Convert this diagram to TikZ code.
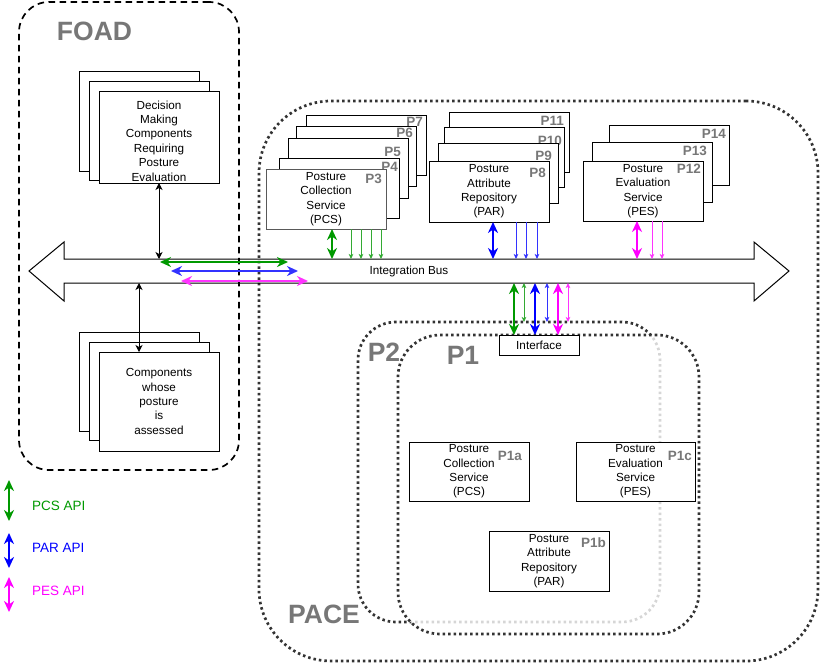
\documentclass[tikz,border=0pt]{standalone}
\usepackage{fontspec}
\setmainfont{Liberation Sans}
\usetikzlibrary{arrows.meta}
\definecolor{lblgray}{HTML}{777777}
\definecolor{cgreen}{HTML}{009900}
\definecolor{cgreenl}{HTML}{33AA33}
\definecolor{cblue}{HTML}{0000FF}
\definecolor{cbluel}{HTML}{3333FF}
\definecolor{cmag}{HTML}{FF00FF}
\definecolor{cmagl}{HTML}{FF33FF}
\definecolor{dotc}{HTML}{333333}
\begin{document}
\begin{tikzpicture}[x=1pt,y=-1pt,
 box/.style={draw=black,fill=white,line width=0.9pt,inner sep=0pt,outer sep=0pt,anchor=north west,align=center,font={\fontsize{11.7}{14.4}\selectfont}},
 txt/.style={inner sep=0pt,align=center,font={\fontsize{11.7}{14.4}\selectfont}},
 plbl/.style={inner sep=0pt,anchor=east,text=lblgray,font={\fontsize{13.5}{15}\selectfont\bfseries}},
 biglbl/.style={inner sep=0pt,text=lblgray,font={\fontsize{26.5}{30}\selectfont\bfseries}},
 foadbox/.style={draw=black,line width=1.7pt,dash pattern=on 6.5pt off 4.5pt,rounded corners=30pt,inner sep=0pt,outer sep=0pt,anchor=north west},
 dotbox/.style={draw=dotc,line width=2.7pt,dash pattern=on 2.5pt off 3pt,inner sep=0pt,outer sep=0pt,anchor=north west},
 apibig/.style={line width=2pt,>={Stealth[length=11pt,width=10pt,inset=3.5pt]},<->},
 apihz/.style={line width=2pt,>={Stealth[length=11pt,width=10pt,inset=3.5pt]},<->},
 apithin/.style={line width=0.8pt,>={Stealth[length=5pt,width=4.5pt,inset=1.2pt]},->},
 apithinb/.style={line width=0.8pt,>={Stealth[length=5pt,width=4.5pt,inset=1.2pt]},<->},
 blkarr/.style={line width=0.8pt,draw=black,>={Stealth[length=7pt,width=7pt,inset=2pt]},<->},
 lgtxt/.style={inner sep=0pt,anchor=west,font={\fontsize{13.5}{15}\selectfont}},
]
\useasboundingbox (0,0) rectangle (821,663);

% containers
\node[foadbox,minimum width=220pt,minimum height=468pt] (foad) at (19,2) {};
\node[dotbox,rounded corners=72pt,minimum width=559pt,minimum height=560pt] (pace) at (259,101) {};
\node[dotbox,rounded corners=38pt,minimum width=302pt,minimum height=300pt] (p2) at (358,322) {};
\node[dotbox,fill=white,fill opacity=0.8,rounded corners=42pt,minimum width=301pt,minimum height=299pt] (p1) at (398,335) {};

\node[biglbl] (tfoad) at (94.5,31.5) {FOAD};
\node[biglbl] (tpace) at (324,614) {PACE};
\node[biglbl] (tp2) at (384,352) {P2};
\node[biglbl] (tp1) at (463,355) {P1};

% decision making stack
\node[box,minimum width=120pt,minimum height=100pt] (dm1) at (79,71) {};
\node[box,minimum width=120pt,minimum height=99pt] (dm2) at (89,81) {};
\node[box,minimum width=120pt,minimum height=92pt] (dm3) at (99,91) {};
\node[txt] (dmt) at (159,141) {Decision\\Making\\Components\\Requiring\\Posture\\Evaluation};

% components stack
\node[box,minimum width=120pt,minimum height=99pt] (cp1) at (79,332) {};
\node[box,minimum width=120pt,minimum height=98pt] (cp2) at (89,342) {};
\node[box,minimum width=120pt,minimum height=99pt] (cp3) at (99,352) {Components\\whose\\posture\\is\\assessed};

% PCS stack
\node[box,minimum width=120pt,minimum height=60pt] (pcs7) at (306,115) {};
\node[plbl] (l7) at (423,122) {P7};
\node[box,minimum width=120pt,minimum height=60pt] (pcs6) at (296,126) {};
\node[plbl] (l6) at (413,133) {P6};
\node[box,minimum width=120pt,minimum height=60pt] (pcs5) at (288,138) {};
\node[plbl] (l5) at (401,152) {P5};
\node[box,minimum width=120pt,minimum height=60pt] (pcs4) at (279,158) {};
\node[plbl] (l4) at (398,167) {P4};
\node[box,draw=black!65,minimum width=120pt,minimum height=60pt] (pcs3) at (266,169) {Posture\\Collection\\Service\\(PCS)};
\node[plbl] (l3) at (382,178.5) {P3};

% PAR stack
\node[box,minimum width=120pt,minimum height=60pt] (par11) at (449,112) {};
\node[plbl] (l11) at (564,121) {P11};
\node[box,minimum width=120pt,minimum height=60pt] (par10) at (444,127) {};
\node[plbl] (l10) at (562,141) {P10};
\node[box,minimum width=120pt,minimum height=60pt] (par9) at (438,143) {};
\node[plbl] (l9) at (552,156) {P9};
\node[box,minimum width=120pt,minimum height=61pt] (par8) at (429,161) {Posture\\Attribute\\Repository\\(PAR)};
\node[plbl] (l8) at (546,172.5) {P8};

% PES stack
\node[box,minimum width=120pt,minimum height=60pt] (pes14) at (609,125) {};
\node[plbl] (l14) at (726,134) {P14};
\node[box,minimum width=120pt,minimum height=60pt] (pes13) at (592,142) {};
\node[plbl] (l13) at (707,151) {P13};
\node[box,minimum width=120pt,minimum height=60pt] (pes12) at (583,161) {Posture\\Evaluation\\Service\\(PES)};
\node[plbl] (l12) at (701,168.5) {P12};

% integration bus
\node[inner sep=0pt,outer sep=0pt,anchor=north west,minimum width=690pt,minimum height=24pt,font={\fontsize{11.7}{14.4}\selectfont}] (bus) at (64,259) {Integration Bus};
\draw[line width=1pt,line join=miter] (bus.north west) -- (64,242) -- (29,271) -- (64,301) -- (bus.south west) -- (bus.south east) -- (754,301) -- (789,271) -- (754,242) -- (bus.north east) -- cycle;

% black connectors
\draw[blkarr] (dm3.south) -- (159,0 |- bus.north);
\draw[blkarr] (139,0 |- bus.south) -- (139,0 |- cp3.north);

% horizontal API arrows on bus
\coordinate (hg1) at (160,262); \coordinate (hg2) at (288,262);
\coordinate (hb1) at (171,271); \coordinate (hb2) at (298,271);
\coordinate (hm1) at (181,281); \coordinate (hm2) at (308,281);
\draw[apihz,cgreen] (hg1) -- (hg2);
\draw[apihz,cbluel] (hb1) -- (hb2);
\draw[apihz,cmagl] (hm1) -- (hm2);

% PCS connectors
\draw[apibig,cgreen] (332,0 |- pcs3.south) -- (332,0 |- bus.north);
\foreach \xx in {351,361,371,381} {\draw[apithin,cgreenl] (\xx,0 |- pcs3.south) -- (\xx,0 |- bus.north);}
% PAR connectors
\draw[apibig,cblue] (493,0 |- par8.south) -- (493,0 |- bus.north);
\foreach \xx in {516,526,537} {\draw[apithin,cbluel] (\xx,0 |- par8.south) -- (\xx,0 |- bus.north);}
% PES connectors
\draw[apibig,cmag] (637,0 |- pes12.south) -- (637,0 |- bus.north);
\foreach \xx in {652,662} {\draw[apithin,cmagl] (\xx,0 |- pes12.south) -- (\xx,0 |- bus.north);}

% interface
\node[box,minimum width=80pt,minimum height=20pt] (iface) at (499,335) {Interface};
\draw[apibig,cgreen] (514,0 |- bus.south) -- (514,0 |- iface.north);
\draw[apithinb,cgreenl] (524,0 |- bus.south) -- (524,0 |- p2.north);
\draw[apibig,cblue] (535,0 |- bus.south) -- (535,0 |- iface.north);
\draw[apithinb,cbluel] (547,0 |- bus.south) -- (547,0 |- p2.north);
\draw[apibig,cmag] (558,0 |- bus.south) -- (558,0 |- iface.north);
\draw[apithinb,cmagl] (568,0 |- bus.south) -- (568,0 |- p2.north);

% P1 services
\node[box,minimum width=120pt,minimum height=59pt] (p1a) at (409,442) {Posture\\Collection\\Service\\(PCS)};
\node[plbl] (lp1a) at (522,455.5) {P1a};
\node[box,minimum width=119pt,minimum height=59pt] (p1c) at (576,442) {Posture\\Evaluation\\Service\\(PES)};
\node[plbl] (lp1c) at (692,455.5) {P1c};
\node[box,minimum width=120pt,minimum height=60pt] (p1b) at (489,531) {Posture\\Attribute\\Repository\\(PAR)};
\node[plbl] (lp1b) at (606,542.5) {P1b};

% legend
\coordinate (lgA1) at (9,480); \coordinate (lgA2) at (9,521);
\coordinate (lgB1) at (9,533); \coordinate (lgB2) at (9,568);
\coordinate (lgC1) at (9,577); \coordinate (lgC2) at (9,612);
\draw[apibig,cgreen] (lgA1) -- (lgA2);
\draw[apibig,cblue] (lgB1) -- (lgB2);
\draw[apibig,cmag] (lgC1) -- (lgC2);
\node[lgtxt,text=cgreen] (lgA) at (32,506) {PCS API};
\node[lgtxt,text=cblue] (lgB) at (32,548) {PAR API};
\node[lgtxt,text=cmag] (lgC) at (32,590.5) {PES API};
\end{tikzpicture}
\end{document}
